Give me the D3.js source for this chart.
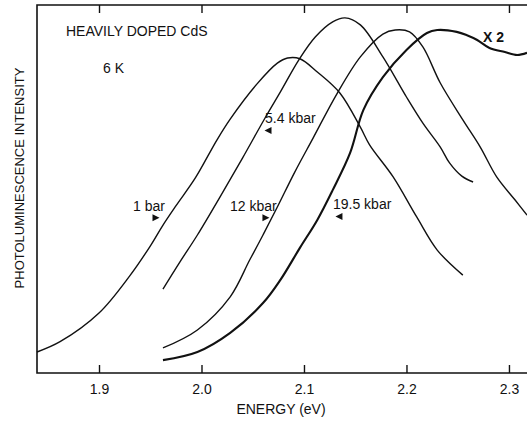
<!DOCTYPE html>
<html>
<head>
<meta charset="utf-8">
<script src="https://cdn.jsdelivr.net/npm/d3@7"></script>
<style>
  body { margin: 0; background: #fff; }
  svg { display: block; font-family: "Liberation Sans", Arial, sans-serif; }
</style>
</head>
<body>
<div id="chart"></div>
<script>
// data: energy (eV) and intensity (arbitrary, 0-100)
const energy1bar = [1.8395, 1.862, 1.900, 1.930, 1.950, 1.962, 1.975, 1.994, 2.015, 2.028, 2.054, 2.074, 2.084, 2.096, 2.113, 2.135, 2.155, 2.164, 2.187, 2.210, 2.230, 2.255];
const intensity1bar = [5.7, 8.5, 16.3, 26.4, 34.5, 40.0, 45.4, 53.0, 63.3, 69.0, 78.5, 84.2, 85.6, 85.4, 81.8, 76.1, 66.8, 62.0, 53.3, 42.4, 33.4, 26.6];

const energy5kbar = [1.9624, 1.979, 1.996, 2.018, 2.040, 2.062, 2.077, 2.095, 2.111, 2.128, 2.140, 2.155, 2.177, 2.200, 2.216, 2.233, 2.242, 2.254, 2.265];
const intensity5kbar = [22.8, 30.2, 37.5, 47.8, 58.4, 69.3, 76.4, 85.1, 91.3, 95.4, 96.5, 94.6, 85.9, 75.0, 67.9, 61.4, 57.1, 53.5, 51.9];

const energy12kbar = [1.9624, 1.996, 2.028, 2.047, 2.060, 2.074, 2.091, 2.109, 2.132, 2.155, 2.177, 2.189, 2.203, 2.216, 2.233, 2.255, 2.272, 2.288, 2.306, 2.3176];
const intensity12kbar = [6.8, 11.7, 20.7, 30.7, 37.5, 45.1, 54.6, 63.9, 75.8, 85.9, 92.1, 93.2, 92.7, 88.6, 78.8, 68.8, 61.4, 53.3, 47.0, 42.9];

const energy19kbar = [1.9624, 1.996, 2.028, 2.060, 2.077, 2.096, 2.113, 2.128, 2.145, 2.158, 2.177, 2.200, 2.220, 2.230, 2.249, 2.259, 2.269, 2.281, 2.296, 2.308, 2.3176];
const intensity19kbar = [3.5, 5.7, 10.9, 19.0, 25.3, 34.0, 41.6, 49.7, 59.8, 71.5, 80.4, 87.8, 92.4, 93.2, 92.7, 91.8, 90.5, 88.3, 87.2, 86.4, 87.0];

const xTicks = [1.9, 2.0, 2.1, 2.2, 2.3];

// formatting
const width = 527;
const height = 421;
const plot = {left: 37, right: 527, top: 5, bottom: 373};

const svg = d3.select("#chart")
    .append("svg")
        .attr("width", width)
        .attr("height", height);

const x = d3.scaleLinear()
    .domain([1.8395, 2.3176])
    .range([plot.left, plot.right]);

const y = d3.scaleLinear()
    .domain([0, 100])
    .range([plot.bottom, plot.top]);

// frame: left, top and bottom lines
svg.append("path")
    .attr("d", `M${plot.right},${plot.top}H${plot.left}V${plot.bottom}H${plot.right}`)
    .attr("fill", "none")
    .attr("stroke", "#111")
    .attr("stroke-width", 1.6);

// bottom axis, ticks point inward
const bottomAxis = svg.append("g")
    .attr("transform", `translate(0, ${plot.bottom})`)
    .call(d3.axisBottom(x).tickValues(xTicks).tickFormat(d3.format(".1f")).tickSizeInner(-8).tickSizeOuter(0).tickPadding(11));
bottomAxis.select(".domain").remove();
bottomAxis.selectAll("line").attr("stroke", "#111").attr("stroke-width", 1.4);
bottomAxis.selectAll("text")
    .attr("font-size", 14)
    .attr("font-family", "Liberation Sans, Arial, sans-serif")
    .attr("fill", "#111");

// top axis, ticks point inward, no labels
const topAxis = svg.append("g")
    .attr("transform", `translate(0, ${plot.top})`)
    .call(d3.axisTop(x).tickValues(xTicks).tickFormat("").tickSizeInner(-8).tickSizeOuter(0));
topAxis.select(".domain").remove();
topAxis.selectAll("line").attr("stroke", "#111").attr("stroke-width", 1.4);

// curves
const series = [
    {e: energy1bar, v: intensity1bar, w: 1.4},
    {e: energy5kbar, v: intensity5kbar, w: 1.4},
    {e: energy12kbar, v: intensity12kbar, w: 1.4},
    {e: energy19kbar, v: intensity19kbar, w: 2.1}
];

const line = d3.line()
    .x(d => x(d[0]))
    .y(d => y(d[1]))
    .curve(d3.curveCatmullRom.alpha(0.5));

svg.append("g")
    .selectAll("path")
    .data(series)
    .join("path")
        .attr("d", s => line(s.e.map((e, i) => [e, s.v[i]])))
        .attr("fill", "none")
        .attr("stroke", "#111")
        .attr("stroke-width", s => s.w)
        .attr("stroke-linejoin", "round");

// curve labels with little arrow heads
const labels = [
    {text: "1 bar", e: 1.9332, v: 43.9, ae: 1.9556, av: 42.2, dir: 1},
    {text: "12 kbar", e: 2.0278, v: 43.9, ae: 2.0629, av: 42.2, dir: 1},
    {text: "5.4 kbar", e: 2.0620, v: 67.9, ae: 2.0649, av: 65.9, dir: -1},
    {text: "19.5 kbar", e: 2.1283, v: 44.6, ae: 2.1341, av: 42.5, dir: -1}
];

svg.append("g")
    .selectAll("text")
    .data(labels)
    .join("text")
        .attr("x", d => x(d.e))
        .attr("y", d => y(d.v))
        .attr("font-size", 14)
        .attr("fill", "#111")
        .text(d => d.text);

svg.append("g")
    .selectAll("path")
    .data(labels)
    .join("path")
        .attr("transform", d => `translate(${x(d.ae)}, ${y(d.av)})`)
        .attr("d", d => d.dir > 0 ? "M-3.5,-3.5L3.5,0L-3.5,3.5Z" : "M3.5,-3.5L-3.5,0L3.5,3.5Z")
        .attr("fill", "#111");

svg.append("text")
    .attr("x", x(2.2746))
    .attr("y", y(89.9))
    .attr("font-size", 14)
    .attr("font-weight", "bold")
    .attr("fill", "#111")
    .text("X 2");

// annotations
svg.append("text")
    .attr("x", 66)
    .attr("y", 36)
    .attr("font-size", 14)
    .attr("fill", "#111")
    .text("HEAVILY DOPED CdS");

svg.append("text")
    .attr("x", 103)
    .attr("y", 73)
    .attr("font-size", 14)
    .attr("fill", "#111")
    .text("6 K");

// axis titles
svg.append("text")
    .attr("transform", `translate(24, 178) rotate(-90)`)
    .attr("text-anchor", "middle")
    .attr("font-size", 13)
    .attr("fill", "#111")
    .text("PHOTOLUMINESCENCE INTENSITY");

svg.append("text")
    .attr("x", 281)
    .attr("y", 414)
    .attr("text-anchor", "middle")
    .attr("font-size", 14)
    .attr("fill", "#111")
    .text("ENERGY (eV)");
</script>
</body>
</html>
